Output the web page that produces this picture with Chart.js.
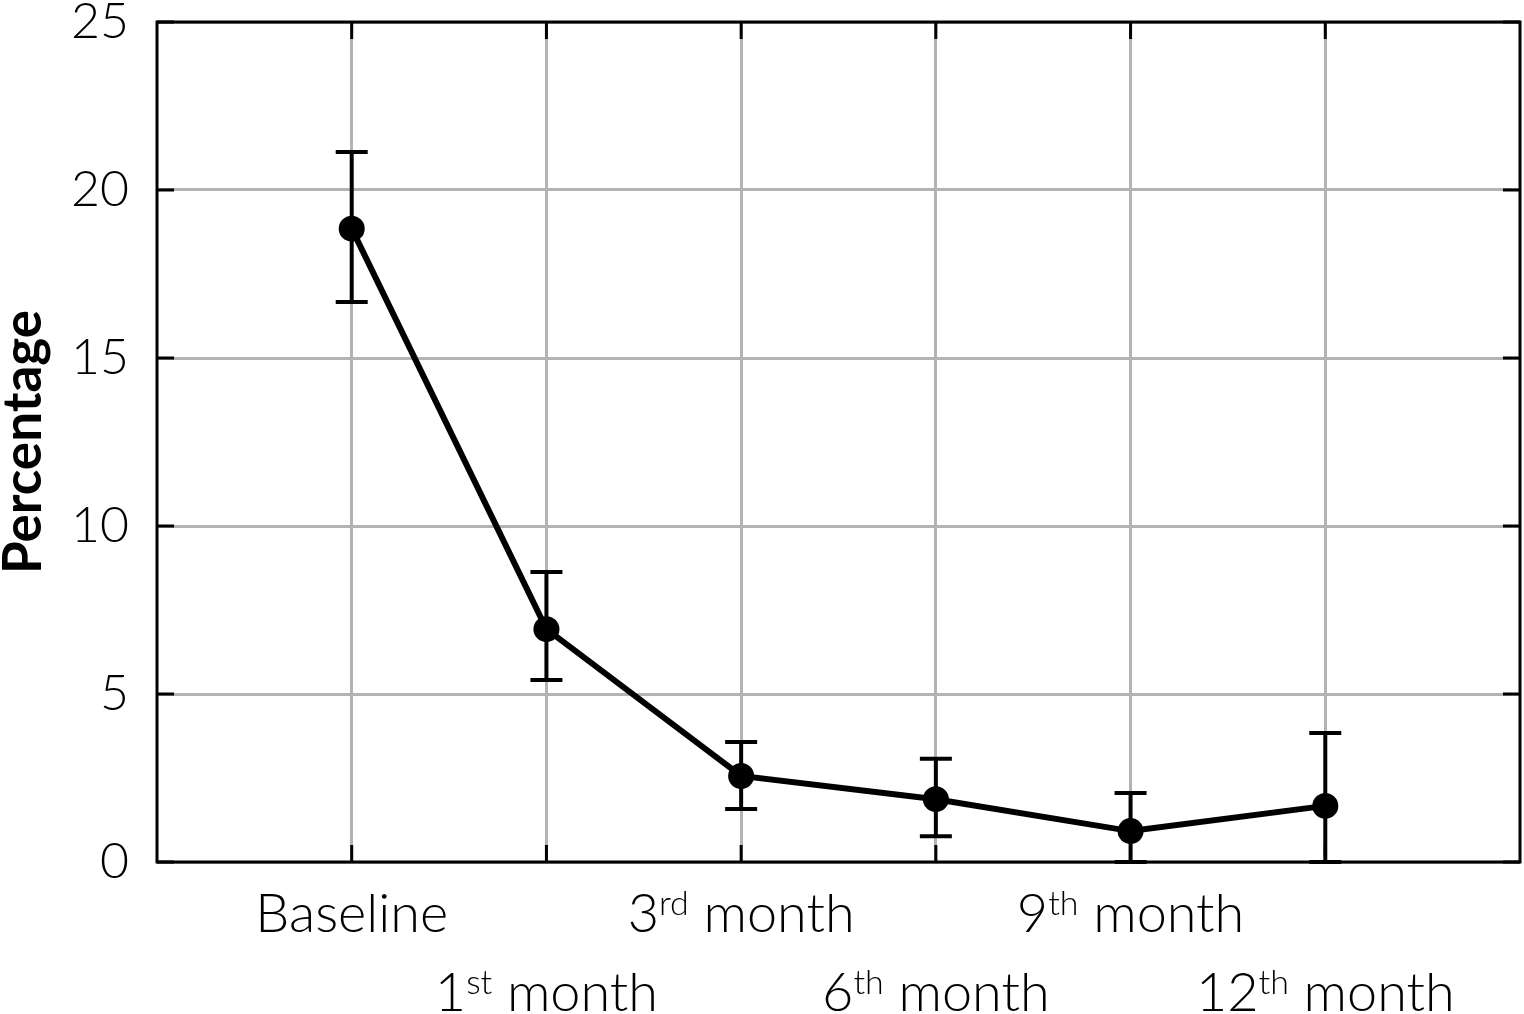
<!DOCTYPE html>
<html>
<head>
<meta charset="utf-8">
<script src="https://cdn.jsdelivr.net/npm/chart.js@4.4.0/dist/chart.umd.min.js"></script>
<style>
  html, body { margin: 0; padding: 0; background: #fff; }
  #wrap { width: 1524px; height: 1014px; }
</style>
</head>
<body>
<div id="wrap"><canvas id="chart"></canvas></div>
<script>
// data
const categories = ['Baseline', '1st month', '3rd month', '6th month', '9th month', '12th month'];
const means = [18.85, 6.93, 2.56, 1.87, 0.92, 1.67];
const upper = [21.13, 8.63, 3.57, 3.07, 2.05, 3.84];
const lower = [16.67, 5.42, 1.58, 0.77, 0.0, 0.0];
const yTicks = [0, 5, 10, 15, 20, 25];

const FONT = 'Lato, "Open Sans", sans-serif';

// frame, inner ticks, error bars and the two-row x labels
const extras = {
    id: 'extras',
    beforeDatasetsDraw(chart) {
        const ctx = chart.ctx;
        const xs = chart.scales.x;
        const ys = chart.scales.y;

        ctx.save();
        ctx.strokeStyle = '#000';
        ctx.lineWidth = 4;
        ctx.lineCap = 'butt';
        // error bars
        for (let i = 0; i < means.length; i++) {
            const px = xs.getPixelForValue(i);
            const top = ys.getPixelForValue(upper[i]);
            const bot = ys.getPixelForValue(lower[i]);
            ctx.beginPath();
            ctx.moveTo(px, top);
            ctx.lineTo(px, bot);
            ctx.moveTo(px - 16, top);
            ctx.lineTo(px + 16, top);
            ctx.moveTo(px - 16, bot);
            ctx.lineTo(px + 16, bot);
            ctx.stroke();
        }
        ctx.restore();
    },
    afterDraw(chart) {
        const ctx = chart.ctx;
        const area = chart.chartArea;
        const xs = chart.scales.x;
        const ys = chart.scales.y;

        ctx.save();
        ctx.strokeStyle = '#000';
        ctx.lineWidth = 3;
        ctx.strokeRect(area.left, area.top, area.right - area.left, area.bottom - area.top);

        // inward tick marks
        const t = 17;
        ctx.beginPath();
        for (let i = 0; i < categories.length; i++) {
            const px = xs.getPixelForValue(i);
            ctx.moveTo(px, area.top);
            ctx.lineTo(px, area.top + t);
            ctx.moveTo(px, area.bottom);
            ctx.lineTo(px, area.bottom - t);
        }
        yTicks.forEach(v => {
            const py = ys.getPixelForValue(v);
            ctx.moveTo(area.left, py);
            ctx.lineTo(area.left + t, py);
            ctx.moveTo(area.right, py);
            ctx.lineTo(area.right - t, py);
        });
        ctx.stroke();

        // x labels, staggered in two rows, with superscripts
        ctx.fillStyle = '#000';
        ctx.textBaseline = 'alphabetic';
        const big = '300 54px ' + FONT;
        const small = '300 34px ' + FONT;
        categories.forEach((lab, i) => {
            const px = xs.getPixelForValue(i);
            const baseY = i % 2 === 0 ? 932 : 1011;
            const m = lab.match(/^(\d+)(st|nd|rd|th)(.*)$/);
            let parts;
            if (m) {
                parts = [[m[1], big, 0], [m[2], small, -17], [m[3], big, 0]];
            } else {
                parts = [[lab, big, 0]];
            }
            let w = 0;
            parts.forEach(p => { ctx.font = p[1]; w += ctx.measureText(p[0]).width; });
            let x = px - w / 2;
            ctx.textAlign = 'left';
            parts.forEach(p => {
                ctx.font = p[1];
                ctx.fillText(p[0], x, baseY + p[2]);
                x += ctx.measureText(p[0]).width;
            });
        });
        ctx.restore();
    }
};

new Chart(document.getElementById('chart'), {
    type: 'line',
    data: {
        datasets: [{
            data: means.map((v, i) => ({ x: i, y: v })),
            borderColor: '#000',
            backgroundColor: '#000',
            borderWidth: 6,
            pointRadius: 13,
            pointBackgroundColor: '#000',
            pointBorderWidth: 0,
            tension: 0,
            clip: false
        }]
    },
    options: {
        responsive: true,
        maintainAspectRatio: false,
        animation: false,
        layout: { autoPadding: false, padding: { top: 22, right: 4, left: -8, bottom: 0 } },
        plugins: {
            legend: { display: false },
            tooltip: { enabled: false }
        },
        scales: {
            x: {
                type: 'linear',
                min: -1,
                max: 6,
                afterBuildTicks(scale) {
                    scale.ticks = categories.map((c, i) => ({ value: i }));
                },
                afterFit(scale) {
                    scale.height = 152;
                    scale.paddingLeft = 0;
                    scale.paddingRight = 0;
                },
                ticks: { display: false },
                grid: { color: '#b3b3b3', lineWidth: 3, drawTicks: false },
                border: { display: false }
            },
            y: {
                min: 0,
                max: 25,
                afterBuildTicks(scale) {
                    scale.ticks = yTicks.map(v => ({ value: v }));
                },
                afterFit(scale) {
                    scale.width = 165;
                    scale.paddingTop = 0;
                    scale.paddingBottom = 0;
                },
                ticks: {
                    color: '#000',
                    font: { family: FONT, size: 50, weight: 300 },
                    padding: 28
                },
                title: {
                    display: true,
                    text: 'Percentage',
                    color: '#000',
                    font: { family: FONT, size: 53, weight: 'bold' },
                    padding: { top: 0, bottom: 0 }
                },
                grid: { color: '#b3b3b3', lineWidth: 3, drawTicks: false },
                border: { display: false }
            }
        }
    },
    plugins: [extras]
});
</script>
</body>
</html>
